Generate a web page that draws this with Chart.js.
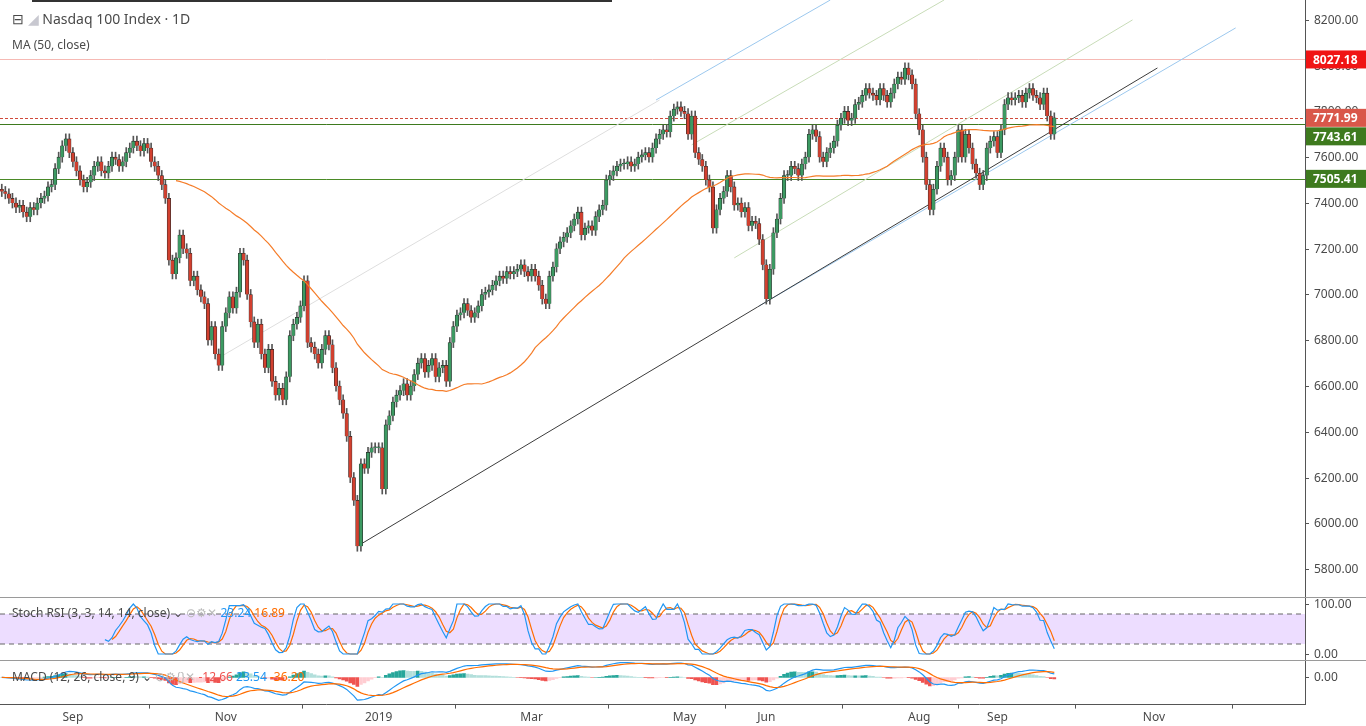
<!DOCTYPE html>
<html>
<head>
<meta charset="utf-8">
<script src="https://cdn.jsdelivr.net/npm/chart.js@4.4.1/dist/chart.umd.min.js"></script>
<style>
  body { margin:0; width:1366px; height:726px; background:#fff; font-family:"Noto Sans", sans-serif; overflow:hidden; position:relative; }
  .panel { position:absolute; left:0; width:1366px; }
  #pPrecio { top:0; height:597px; }
  #pStoch { top:597px; height:63px; border-top:1px solid #9a9a9a; }
  #pMacd { top:660px; height:66px; border-top:1px solid #9a9a9a; }
  .leyenda { position:absolute; left:12px; font-size:13px; color:#4a4a4a; white-space:nowrap; }
  .barra { position:absolute; top:0; left:32px; width:580px; height:2px; background:#333; }
</style>
</head>
<body>
<div class="barra"></div>
<div class="panel" id="pPrecio"><canvas id="graficoPrecio"></canvas></div>
<div class="panel" id="pStoch"><canvas id="graficoStoch"></canvas></div>
<div class="panel" id="pMacd"><canvas id="graficoMacd"></canvas></div>
<div class="leyenda" style="top:9px;font-size:14px;">&#8863; <span style="color:#c8c8d0">&#9698;</span> Nasdaq 100 Index · 1D</div>
<div class="leyenda" style="top:36px;font-size:12px;">MA (50, close)</div>
<div class="leyenda" style="top:604px;font-size:12px;">Stoch RSI (3, 3, 14, 14, close) ⌄ <span style="color:#bbb">⊙⚙✕</span> <span style="color:#2196f3">23.24</span> <span style="color:#ff6d00">16.89</span></div>
<div class="leyenda" style="top:668px;font-size:12px;">MACD (12, 26, close, 9) ⌄ <span style="color:#bbb">⊙⚙{}✕</span> <span style="color:#ef5350">-12.66</span> <span style="color:#2196f3">23.54</span> <span style="color:#ff6d00">-36.20</span></div>
<script>
// Cierres diarios estimados del gráfico (ago 2018 – sep 2019)
const cierresAgo18 = [7450,7440,7420,7400,7380, 7390,7360,7340,7380,7370, 7400,7420,7430,7470,7480, 7550,7600,7650,7680,7620];
const cierresSep18 = [7580,7540,7500,7470,7490, 7520,7560,7580,7540,7530, 7560,7600,7590,7560,7580, 7620,7640,7670,7650,7627];
const cierresOct18 = [7660,7640,7580,7560,7520, 7480,7420,7150,7090,7160, 7260,7200,7180,7060,7080, 7020,6990,6960,6800,6860, 6740,6690,6860];
const cierresNov18 = [6920,6990,6940,7010,7180, 7150,7000,6880,6790,6870, 6740,6680,6760,6620,6560, 6590,6540,6640,6820,6870, 6900,6950];
const cierresDic18 = [7060,6790,6770,6740,6700, 6760,6820,6780,6680,6600, 6540,6480,6380,6200,6100, 5900,6260,6240,6310,6330, 6330];
const cierresEne19 = [6330,6150,6430,6470,6530, 6560,6580,6610,6560,6600, 6650,6700,6720,6660,6690, 6720,6640,6680,6690,6620, 6790,6860,6910];
const cierresFeb19 = [6920,6960,6930,6900,6920, 6950,7000,7010,7020,7040, 7060,7080,7070,7100,7090, 7100,7110,7130,7100,7080];
const cierresMar19 = [7110,7080,7040,6980,6960, 7080,7120,7200,7230,7250, 7270,7300,7330,7360,7260, 7290,7300,7280,7340,7370, 7390];
const cierresAbr19 = [7500,7520,7540,7560,7570, 7570,7580,7560,7570,7600, 7610,7620,7600,7640,7680, 7700,7720,7710,7780,7810, 7820,7800];
const cierresMay19 = [7790,7700,7780,7620,7590, 7560,7500,7470,7290,7370, 7420,7450,7520,7470,7390, 7400,7360,7380,7300,7320, 7310,7240,7130];
const cierresJun19 = [6980,7110,7270,7330,7420, 7520,7520,7560,7550,7520, 7570,7600,7700,7720,7690, 7600,7580,7620,7640,7670];
const cierresJul19 = [7740,7770,7800,7760,7770, 7830,7840,7870,7900,7880, 7870,7850,7900,7870,7840, 7880,7920,7950,7940,7990, 7960,7920,7790];
const cierresAgo19 = [7720,7600,7480,7370,7460, 7560,7640,7600,7500,7520, 7600,7720,7600,7700,7640, 7570,7530,7480,7520,7640, 7670,7690];
const cierresSep19 = [7620,7720,7830,7860,7850, 7860,7870,7840,7880,7900, 7870,7860,7830,7880,7780, 7700,7771.99];

// Niveles horizontales y ticks del eje
const niveles = [
  { valor: 8027.18, linea: "#f6b9b4", fondo: "#f01414", dash: [], desplaza: 0 },
  { valor: 7771.99, linea: "#d0483a", fondo: "#d9574a", dash: [3, 2], desplaza: 0 },
  { valor: 7743.61, linea: "#3e7a1e", fondo: "#3e7a1e", dash: [], desplaza: 12 },
  { valor: 7505.41, linea: "#4a8a26", fondo: "#3e7a1e", dash: [], desplaza: 0 }
];
const ticksPrecio = [5800, 6000, 6200, 6400, 6600, 6800, 7000, 7200, 7400, 7600, 7800, 8000, 8200];
const ticksStoch = [100, 0];
const ticksMacd = [0];
const etiquetasMes = { "2018-09-03": "Sep", "2018-11-01": "Nov", "2019-01-01": "2019", "2019-03-01": "Mar",
  "2019-05-01": "May", "2019-06-03": "Jun", "2019-08-01": "Aug", "2019-09-02": "Sep", "2019-11-01": "Nov" };

// Líneas de tendencia: [índice, valor]
const tendencias = [
  { puntos: [[100, 5900], [325, 7990]], color: "#3c3c3c" },
  { puntos: [[213, 6950], [347, 8165]], color: "#9cc8ee" },
  { puntos: [[206, 7160], [318, 8200]], color: "#c8dcb8" },
  { puntos: [[194, 7654], [265, 8287]], color: "#c8dcb8" },
  { puntos: [[184, 7850], [233, 8287]], color: "#9cc8ee" },
  { puntos: [[60, 6714], [185, 7850]], color: "#dedede" }
];

const cierres = [].concat(cierresAgo18, cierresSep18, cierresOct18, cierresNov18, cierresDic18, cierresEne19,
  cierresFeb19, cierresMar19, cierresAbr19, cierresMay19, cierresJun19, cierresJul19, cierresAgo19, cierresSep19);

// Días hábiles desde 6 ago 2018 hasta fin de 2019
const fechas = [];
for (let d = new Date(Date.UTC(2018, 7, 6)); d <= new Date(Date.UTC(2019, 11, 31)); d.setUTCDate(d.getUTCDate() + 1)) {
  const dia = d.getUTCDay();
  if (dia !== 0 && dia !== 6) fechas.push(d.toISOString().slice(0, 10));
}

const aperturas = cierres.map((c, i) => i === 0 ? c + 10 : cierres[i - 1]);
const cuerpos = fechas.map((f, i) => i < cierres.length ? [aperturas[i], cierres[i]] : null);
const mechas = fechas.map((f, i) => i < cierres.length ? [Math.min(aperturas[i], cierres[i]) - 22, Math.max(aperturas[i], cierres[i]) + 22] : null);
const colores = cierres.map((c, i) => c >= aperturas[i] ? "#3c9a62" : "#d2402f");

// Indicadores
function sma(arr, n) { return arr.map((v, i) => { if (i < n - 1 || arr.slice(i - n + 1, i + 1).some(x => x == null)) return null; return arr.slice(i - n + 1, i + 1).reduce((a, b) => a + b, 0) / n; }); }
function ema(arr, n) { const k = 2 / (n + 1); let prev = null; return arr.map(v => { if (v == null) return null; prev = prev == null ? v : v * k + prev * (1 - k); return prev; }); }
const ma50 = sma(cierres, 50);

const rsi = [null]; let ganancia = 0, perdida = 0;
for (let i = 1; i < cierres.length; i++) {
  const ch = cierres[i] - cierres[i - 1];
  const g = Math.max(ch, 0), p = Math.max(-ch, 0);
  if (i <= 14) { ganancia += g / 14; perdida += p / 14; }
  else { ganancia = (ganancia * 13 + g) / 14; perdida = (perdida * 13 + p) / 14; }
  rsi.push(i < 14 ? null : 100 - 100 / (1 + ganancia / (perdida || 1e-9)));
}
const stoch = rsi.map((v, i) => {
  if (i < 27) return null;
  const w = rsi.slice(i - 13, i + 1); const mn = Math.min(...w), mx = Math.max(...w);
  return mx === mn ? 50 : (v - mn) / (mx - mn) * 100;
});
const kLinea = sma(stoch, 3), dLinea = sma(kLinea, 3);

const ema26 = ema(cierres, 26);
const macd = ema(cierres, 12).map((v, i) => v - ema26[i]);
const senal = ema(macd, 9);
const histo = macd.map((v, i) => v - senal[i]);
const colHisto = histo.map((h, i) => {
  const sube = i > 0 && h > histo[i - 1];
  return h >= 0 ? (sube ? "#26a69a" : "#b2dfdb") : (sube ? "#ffcdd2" : "#ef5350");
});

function rellenar(arr) { return fechas.map((f, i) => arr[i] == null ? null : arr[i]); }
function lineaTend(t) { const d = fechas.map(() => null); t.puntos.forEach(p => d[p[0]] = p[1]); return d; }

const fuente = { family: "Noto Sans", size: 12 };
const anchoEje = 61;
function ejeX(mostrar) {
  return {
    display: mostrar, offset: true,
    grid: { display: mostrar, drawOnChartArea: false, tickLength: 4, color: "#555" },
    border: { color: "#555" },
    ticks: { color: "#4a4a4a", font: fuente, autoSkip: false, maxRotation: 0, padding: 2,
      callback: (v) => etiquetasMes[fechas[v]] || "" },
    afterBuildTicks: (s) => { s.ticks = s.ticks.filter(t => etiquetasMes[fechas[t.value]]); }
  };
}
// Eje Y sin etiquetas propias (evita el relleno automático); las dibuja el plugin
function ejeY(min, max) {
  return { position: "right", min: min, max: max, grid: { display: false }, border: { color: "#555" },
    ticks: { display: false }, afterFit: s => { s.width = anchoEje; } };
}
function pluginTicks(valores) {
  return {
    id: "ticksY",
    afterDraw(chart) {
      const { ctx, chartArea, scales: { y } } = chart;
      ctx.save(); ctx.fillStyle = "#4a4a4a"; ctx.strokeStyle = "#555"; ctx.font = "12px 'Noto Sans'"; ctx.textBaseline = "middle";
      valores.forEach(v => {
        const py = Math.round(y.getPixelForValue(v)) + 0.5;
        ctx.beginPath(); ctx.moveTo(chartArea.right, py); ctx.lineTo(chartArea.right + 4, py); ctx.stroke();
        ctx.fillText(v.toFixed(2), chartArea.right + 9, py);
      });
      ctx.restore();
    }
  };
}
const base = { animation: false, responsive: true, maintainAspectRatio: false, layout: { padding: 0 },
  plugins: { legend: { display: false }, tooltip: { enabled: false } } };

// Etiquetas de nivel y líneas horizontales
const pluginNiveles = {
  id: "niveles",
  beforeDatasetsDraw(chart) {
    const { ctx, chartArea, scales: { y } } = chart;
    niveles.forEach(n => {
      const py = Math.round(y.getPixelForValue(n.valor)) + 0.5;
      ctx.save(); ctx.strokeStyle = n.linea; ctx.lineWidth = 1; ctx.setLineDash(n.dash);
      ctx.beginPath(); ctx.moveTo(chartArea.left, py); ctx.lineTo(chartArea.right, py); ctx.stroke(); ctx.restore();
    });
  },
  afterDraw(chart) {
    const { ctx, chartArea, scales: { y } } = chart;
    niveles.forEach(n => {
      const py = y.getPixelForValue(n.valor) + n.desplaza;
      ctx.save(); ctx.fillStyle = n.fondo; ctx.fillRect(chartArea.right + 1, py - 9, 60, 18);
      ctx.fillStyle = "#fff"; ctx.font = "bold 12px 'Noto Sans'"; ctx.textBaseline = "middle";
      ctx.fillText(n.valor.toFixed(2), chartArea.right + 8, py + 1); ctx.restore();
    });
  }
};

new Chart(document.getElementById("graficoPrecio"), {
  type: "bar",
  data: {
    labels: fechas,
    datasets: [
      { data: cuerpos, backgroundColor: colores, borderColor: "#2a2a2a", borderWidth: 0.6, barThickness: 3.5, grouped: false, minBarLength: 1, order: 1 },
      { data: mechas, backgroundColor: "#555", barThickness: 1, grouped: false, order: 2 },
      { type: "line", data: rellenar(ma50), borderColor: "#f57c28", borderWidth: 1.2, pointRadius: 0, order: 0 }
    ].concat(tendencias.map(t => ({ type: "line", data: lineaTend(t), spanGaps: true, borderColor: t.color, borderWidth: 1, pointRadius: 0, order: 3 })))
  },
  options: Object.assign({}, base, { scales: { x: ejeX(false), y: ejeY(5678, 8287) } }),
  plugins: [pluginTicks(ticksPrecio), pluginNiveles]
});

const pluginBanda = {
  id: "banda",
  beforeDatasetsDraw(chart) {
    const { ctx, chartArea, scales: { y } } = chart;
    const y80 = y.getPixelForValue(80), y20 = y.getPixelForValue(20);
    ctx.save(); ctx.fillStyle = "rgba(210,170,255,0.4)";
    ctx.fillRect(chartArea.left, y80, chartArea.right - chartArea.left, y20 - y80);
    ctx.strokeStyle = "#666"; ctx.setLineDash([5, 4]); ctx.lineWidth = 1;
    [y80, y20].forEach(py => { ctx.beginPath(); ctx.moveTo(chartArea.left, py); ctx.lineTo(chartArea.right, py); ctx.stroke(); });
    ctx.restore();
  }
};
new Chart(document.getElementById("graficoStoch"), {
  type: "bar",
  data: {
    labels: fechas,
    datasets: [
      { type: "line", data: rellenar(kLinea), borderColor: "#2196f3", borderWidth: 1.2, pointRadius: 0 },
      { type: "line", data: rellenar(dLinea), borderColor: "#ff6d00", borderWidth: 1.2, pointRadius: 0 }
    ]
  },
  options: Object.assign({}, base, { scales: { x: ejeX(false), y: ejeY(-14, 112) } }),
  plugins: [pluginBanda, pluginTicks(ticksStoch)]
});

// Cero del MACD a 17 px del borde superior de un área de 45 px
const maxPos = Math.max(...macd.concat(senal).filter(v => v != null));
const maxNeg = -Math.min(...macd.concat(senal).filter(v => v != null));
const A = Math.max(maxPos, maxNeg * 17 / 28) * 1.1;
new Chart(document.getElementById("graficoMacd"), {
  type: "bar",
  data: {
    labels: fechas,
    datasets: [
      { data: rellenar(histo), backgroundColor: colHisto, barThickness: 3, grouped: false, order: 2 },
      { type: "line", data: rellenar(macd), borderColor: "#2196f3", borderWidth: 1.2, pointRadius: 0, order: 1 },
      { type: "line", data: rellenar(senal), borderColor: "#ff6d00", borderWidth: 1.2, pointRadius: 0, order: 0 }
    ]
  },
  options: Object.assign({}, base, { scales: { x: ejeX(true), y: ejeY(-A * 28 / 17, A) } }),
  plugins: [pluginTicks(ticksMacd)]
});
</script>
</body>
</html>
